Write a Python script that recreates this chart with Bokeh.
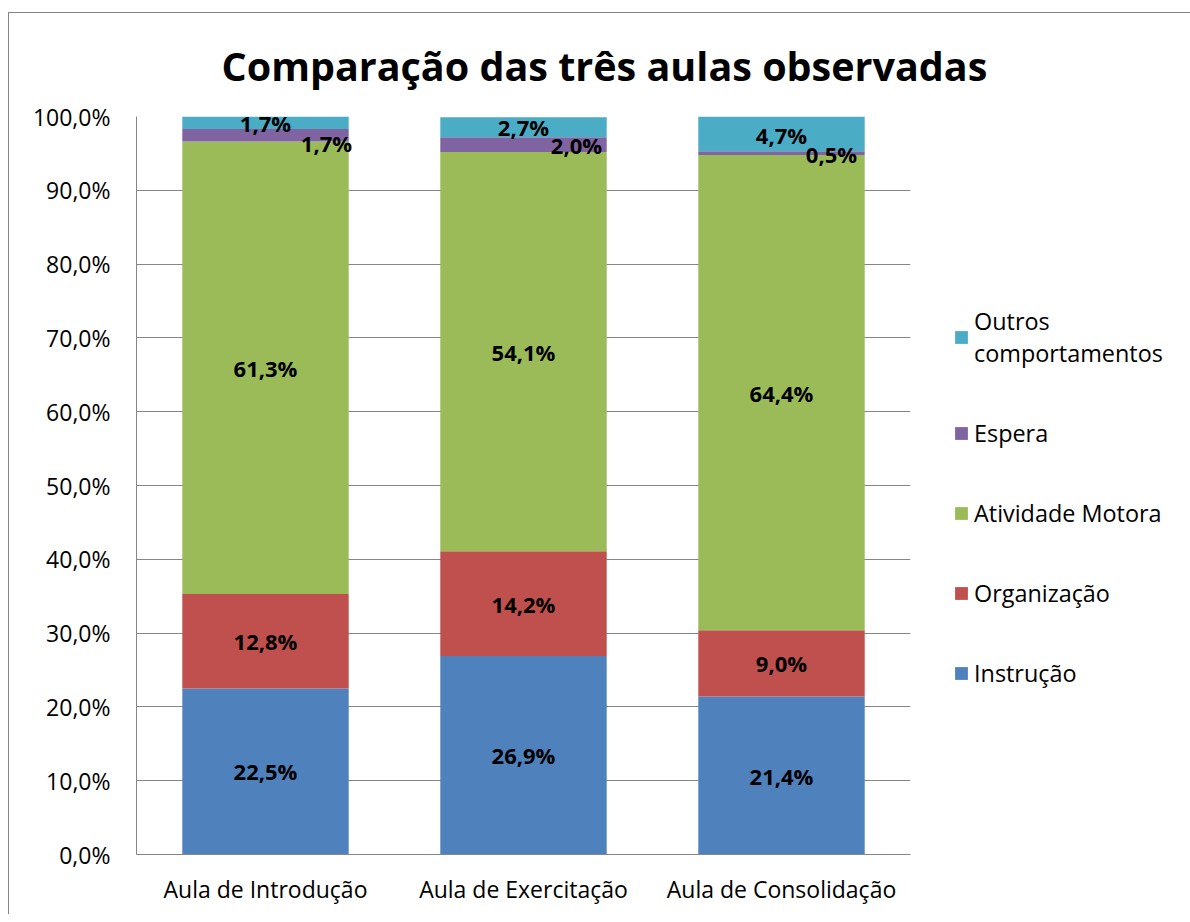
from bokeh.plotting import figure
from bokeh.models import (ColumnDataSource, FactorRange, Legend, LegendItem,
                          CustomJSTickFormatter, FixedTicker)
from bokeh.core.properties import value
from bokeh.embed import file_html
from bokeh.resources import INLINE

# ---- data ----
aulas = ["Aula de Introdução", "Aula de Exercitação", "Aula de Consolidação"]
series = ["Instrução", "Organização", "Atividade Motora", "Espera", "Outros comportamentos"]
instrucao = [22.5, 26.9, 21.4]
organizacao = [12.8, 14.2, 9.0]
atividade_motora = [61.3, 54.1, 64.4]
espera = [1.7, 2.0, 0.5]
outros = [1.7, 2.7, 4.7]
y_ticks = [0, 10, 20, 30, 40, 50, 60, 70, 80, 90, 100]

# ---- styles ----
colors = ["#4F81BD", "#C0504D", "#9BBB59", "#8064A2", "#4BACC6"]
legend_labels = ["Instrução", "Organização", "Atividade Motora", "Espera", "Outros\ncomportamentos"]
# label offsets (screen px) per series, per bar
label_dx = [[0, 0, 0], [0, 0, 0], [0, 0, 0], [61, 53, 50], [0, 0, 0]]
label_dy = [[0, 0, 0], [0, 0, 0], [0, 0, 0], [8, 0, 1], [0, 0, 1]]
FONT = "Open Sans"
GRAY = "#868686"

keys = ["s0", "s1", "s2", "s3", "s4"]
values_list = [instrucao, organizacao, atividade_motora, espera, outros]
data = {"aula": aulas}
for k, v in zip(keys, values_list):
    data[k] = v
src = ColumnDataSource(data)

p = figure(x_range=FactorRange(*aulas), y_range=(0, 100),
           frame_width=774, frame_height=738, width=None, height=None,
           output_backend="svg", toolbar_location=None,
           min_border_left=127, min_border_right=263, min_border_top=102,
           min_border_bottom=60)
p.margin = (12, 0, 0, 8)
p.styles = {"border-left": f"1px solid {GRAY}", "border-top": f"1px solid {GRAY}"}
p.outline_line_color = None

renderers = p.vbar_stack(keys, x="aula", width=0.645, color=colors, source=src,
                         line_color=None)

# data labels
lx, ly, lt, ldx, ldy = [], [], [], [], []
bottoms = [0.0] * len(aulas)
for si, vals in enumerate(values_list):
    for i, v in enumerate(vals):
        lx.append(aulas[i])
        ly.append(bottoms[i] + v / 2.0)
        lt.append(f"{v:.1f}".replace(".", ",") + "%")
        ldx.append(label_dx[si][i])
        ldy.append(label_dy[si][i])
        bottoms[i] += v
lsrc = ColumnDataSource(dict(x=lx, y=ly, t=lt, dx=ldx, dy=ldy))
p.text(x="x", y="y", text="t", x_offset="dx", y_offset="dy", source=lsrc,
       text_font=value(FONT), text_font_style="bold", text_font_size="22px",
       text_align="center", text_baseline="middle", text_color="#000000")

# title
p.title.text = "Comparação das três aulas observadas"
p.title.text_font = FONT
p.title.text_font_style = "bold"
p.title.text_font_size = "39.5px"
p.title.align = "left"
p.title.offset = 85
p.title.standoff = 47
p.title.text_color = "#000000"

# axes
p.yaxis.ticker = FixedTicker(ticks=y_ticks)
p.yaxis.formatter = CustomJSTickFormatter(code="return tick.toFixed(1).replace('.', ',') + '%';")
for ax in (p.xaxis[0], p.yaxis[0]):
    ax.axis_line_color = GRAY
    ax.major_tick_line_color = None
    ax.minor_tick_line_color = None
    ax.major_tick_out = 0
    ax.major_tick_in = 0
    ax.major_label_text_font = FONT
    ax.major_label_text_font_size = "23px"
    ax.major_label_text_color = "#000000"
p.yaxis.major_label_standoff = 26
p.xaxis.major_label_standoff = 18
p.xgrid.grid_line_color = None
p.ygrid.grid_line_color = GRAY
p.ygrid.grid_line_width = 1

# legend
items = [LegendItem(label=legend_labels[i], renderers=[renderers[i]]) for i in range(4, -1, -1)]
legend = Legend(items=items, location=(43, 165), label_text_font=FONT,
                label_text_font_size="23.4px", label_text_line_height=1.39,
                label_text_color="#000000",
                glyph_width=16, glyph_height=16,
                label_standoff=5, spacing=48, padding=10, margin=0,
                border_line_color=None, background_fill_alpha=0)
p.add_layout(legend, "right")

open("out.html", "w").write(file_html(p, INLINE))
